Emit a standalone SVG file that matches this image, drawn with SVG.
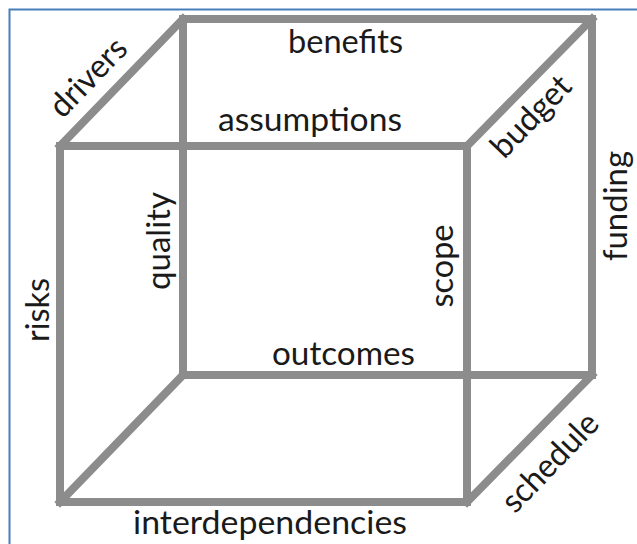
<svg xmlns="http://www.w3.org/2000/svg" width="637" height="544" viewBox="0 0 637 544">
<style>
.edge{fill:none;stroke:#8c8c8c;stroke-width:8;stroke-linejoin:miter;stroke-linecap:square}
.lbl{font-family:Lato,"Open Sans","Liberation Sans",sans-serif;font-size:33px;fill:#1a1a1a;text-anchor:middle}
</style>
<rect x="0" y="0" width="637" height="544" fill="#ffffff"/>
<rect x="9.5" y="9.5" width="700" height="600" fill="none" stroke="#4a7ebb" stroke-width="2"/>
<g id="connectors">
<path class="edge" d="M183,19 H592 V375 H183 Z"/>
<path class="edge" d="M60,146 H467 V502 H60 Z"/>
<path class="edge" d="M60,146 L183,19 M467,146 L592,19 M467,502 L592,375 M60,502 L183,375"/>
</g>
<g id="benefits"><text class="lbl" x="345.5" y="53" textLength="115" lengthAdjust="spacingAndGlyphs">benefits</text></g>
<g id="assumptions"><text class="lbl" x="310" y="131" textLength="184" lengthAdjust="spacingAndGlyphs">assumptions</text></g>
<g id="outcomes"><text class="lbl" x="343.5" y="365" textLength="143" lengthAdjust="spacingAndGlyphs">outcomes</text></g>
<g id="interdependencies"><text class="lbl" x="270" y="534" textLength="274" lengthAdjust="spacingAndGlyphs">interdependencies</text></g>
<g id="quality"><text class="lbl" transform="translate(170,241) rotate(-90)" textLength="98" lengthAdjust="spacingAndGlyphs">quality</text></g>
<g id="scope"><text class="lbl" transform="translate(453,266) rotate(-90)" textLength="83" lengthAdjust="spacingAndGlyphs">scope</text></g>
<g id="risks"><text class="lbl" transform="translate(49,310) rotate(-90)" textLength="64" lengthAdjust="spacingAndGlyphs">risks</text></g>
<g id="funding"><text class="lbl" transform="translate(627,206) rotate(-90)" textLength="110" lengthAdjust="spacingAndGlyphs">funding</text></g>
<g id="drivers"><text class="lbl" transform="translate(96,85) rotate(-46)" textLength="96" lengthAdjust="spacingAndGlyphs">drivers</text></g>
<g id="budget"><text class="lbl" transform="translate(539,124) rotate(-46)" textLength="100" lengthAdjust="spacingAndGlyphs">budget</text></g>
<g id="schedule"><text class="lbl" transform="translate(558,470) rotate(-46)" textLength="124" lengthAdjust="spacingAndGlyphs">schedule</text></g>
</svg>
